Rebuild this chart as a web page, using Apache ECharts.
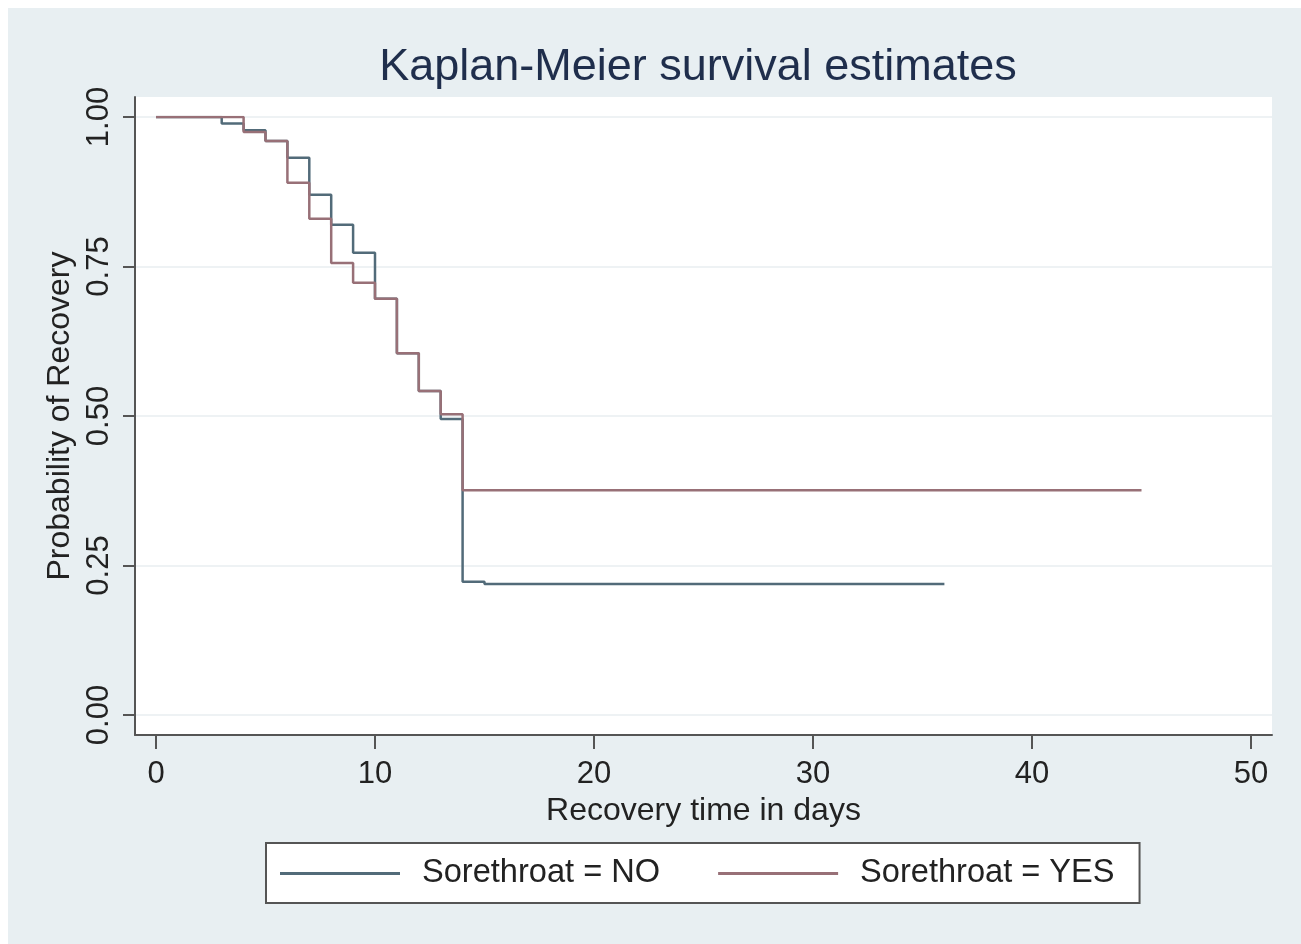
<!DOCTYPE html>
<html>
<head>
<meta charset="utf-8">
<script src="https://cdn.jsdelivr.net/npm/echarts@6/dist/echarts.min.js"></script>
<style>
  html, body { margin: 0; padding: 0; background: #fff; }
  #chart { position: absolute; left: 8px; top: 8px; width: 1293px; height: 936px; }
</style>
</head>
<body>
<div id="chart"></div>
<script>
// Kaplan-Meier step points: [day, probability]
const noTimes  = [0, 3, 4, 5, 6, 7, 8, 9, 10, 11, 12, 13, 14, 15, 36]
const noSurv   = [1.00, 0.989, 0.978, 0.96, 0.932, 0.87, 0.82, 0.773, 0.696, 0.605, 0.542, 0.495, 0.223, 0.219, 0.219]
const yesTimes = [0, 4, 5, 6, 7, 8, 9, 10, 11, 12, 13, 14, 45]
const yesSurv  = [1.00, 0.975, 0.96, 0.89, 0.83, 0.756, 0.723, 0.696, 0.605, 0.542, 0.503, 0.376, 0.376]
const seriesNames = ['Sorethroat = NO', 'Sorethroat = YES']
const xTicks = [0, 10, 20, 30, 40, 50]
const yTicks = [0, 0.25, 0.5, 0.75, 1]

const font = '"Liberation Sans", Arial, sans-serif'
const colorNo = '#526b79'
const colorYes = '#987077'

const chart = echarts.init(document.getElementById('chart'))

const pairs = (xs, ys) => xs.map((x, i) => [x, ys[i]])

chart.setOption({
    backgroundColor: '#e8eff2',
    animation: false,
    title: {
        text: 'Kaplan-Meier survival estimates',
        left: 685,
        textAlign: 'center',
        top: 32,
        textStyle: { fontFamily: font, fontSize: 45, fontWeight: 'normal', color: '#1f2e4c' }
    },
    legend: {
        data: seriesNames,
        left: 258,
        top: 835,
        icon: 'rect',
        itemWidth: 120,
        itemHeight: 3,
        itemGap: 58,
        padding: [14, 25, 13, 14],
        backgroundColor: '#fff',
        borderColor: '#555',
        borderWidth: 2,
        borderRadius: 0,
        textStyle: { fontFamily: font, fontSize: 32.6, color: '#222', padding: [0, 0, 0, 17] }
    },
    grid: [
        // plot background + axis lines
        { left: 127, right: 29, top: 89, bottom: 209, show: true, backgroundColor: '#fff', borderWidth: 0 },
        // y ticks / grid lines
        { left: 127, right: 29, top: 109, bottom: 229 },
        // data area
        { left: 148, right: 50, top: 109, bottom: 229 },
        // x ticks / labels
        { left: 148, right: 50, top: 89, bottom: 209 }
    ],
    xAxis: [
        {
            gridIndex: 0, type: 'value', min: 0, max: 1,
            axisLine: { show: true, lineStyle: { color: '#555', width: 2 } },
            axisTick: { show: false }, axisLabel: { show: false }, splitLine: { show: false }
        },
        { gridIndex: 1, type: 'value', min: 0, max: 1, show: false },
        { gridIndex: 2, type: 'value', min: xTicks[0], max: xTicks[xTicks.length - 1], show: false },
        {
            gridIndex: 3, type: 'value', min: xTicks[0], max: xTicks[xTicks.length - 1], interval: 10,
            name: 'Recovery time in days',
            nameLocation: 'middle',
            nameGap: 54,
            nameTextStyle: { fontFamily: font, fontSize: 32, color: '#222' },
            axisLine: { show: false },
            axisTick: { show: true, length: 14, inside: false, lineStyle: { color: '#555', width: 2 } },
            axisLabel: { fontFamily: font, fontSize: 31, color: '#222', margin: 24 },
            splitLine: { show: false }
        }
    ],
    yAxis: [
        {
            gridIndex: 0, type: 'value', min: 0, max: 1,
            axisLine: { show: true, lineStyle: { color: '#555', width: 2 } },
            axisTick: { show: false }, axisLabel: { show: false }, splitLine: { show: false }
        },
        {
            gridIndex: 1, type: 'value', min: yTicks[0], max: yTicks[yTicks.length - 1], interval: 0.25,
            name: 'Probability of Recovery',
            nameLocation: 'middle',
            nameRotate: 90,
            nameGap: 55,
            nameTextStyle: { fontFamily: font, fontSize: 32, color: '#222' },
            axisLine: { show: false },
            axisTick: { show: true, length: 12, lineStyle: { color: '#555', width: 2 } },
            axisLabel: {
                rotate: 90, fontFamily: font, fontSize: 31, color: '#222', margin: 20,
                formatter: v => v.toFixed(2)
            },
            splitLine: { show: true, lineStyle: { color: '#eef2f4', width: 2 } }
        },
        { gridIndex: 2, type: 'value', min: yTicks[0], max: yTicks[yTicks.length - 1], show: false },
        { gridIndex: 3, type: 'value', min: 0, max: 1, show: false }
    ],
    series: [
        {
            name: seriesNames[0],
            type: 'line',
            xAxisIndex: 2, yAxisIndex: 2,
            step: 'end',
            symbol: 'none',
            color: colorNo,
            lineStyle: { color: colorNo, width: 2.5 },
            data: pairs(noTimes, noSurv)
        },
        {
            name: seriesNames[1],
            type: 'line',
            xAxisIndex: 2, yAxisIndex: 2,
            step: 'end',
            symbol: 'none',
            color: colorYes,
            lineStyle: { color: colorYes, width: 2.5 },
            data: pairs(yesTimes, yesSurv)
        }
    ]
})
</script>
</body>
</html>
